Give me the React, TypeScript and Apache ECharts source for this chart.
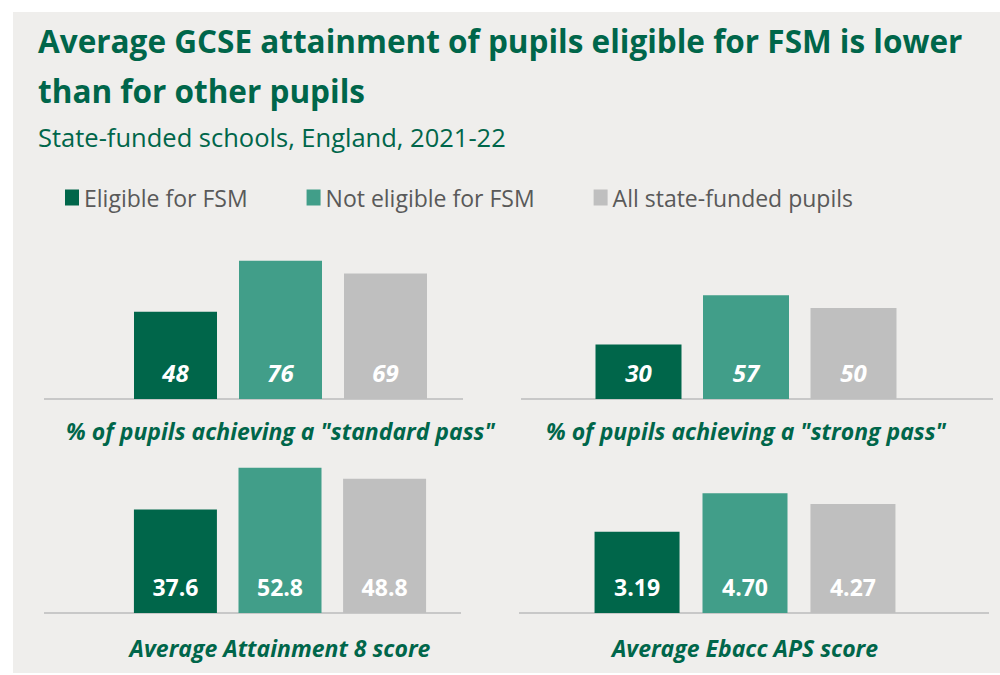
import React, { useEffect, useRef } from "react";
import * as echarts from "echarts";

const seriesNames = ["Eligible for FSM", "Not eligible for FSM", "All state-funded pupils"];
const seriesColors = ["#00664a", "#419e89", "#bfbfbf"];
const panelLabels = [
  '% of pupils achieving a "standard pass"',
  '% of pupils achieving a "strong pass"',
  "Average Attainment 8 score",
  "Average Ebacc APS score",
];
const eligibleValues = [48, 30, 37.6, 3.19];
const notEligibleValues = [76, 57, 52.8, 4.7];
const allPupilValues = [69, 50, 48.8, 4.27];
const valueDecimals = [0, 0, 1, 2];
const axisMax = [100, 100, 60, 6];

const titleText = "Average GCSE attainment of pupils eligible for FSM is lower\nthan for other pupils";
const subtitleText = "State-funded schools, England, 2021-22";

const GREEN = "#00664a";

const panelLayout = [
  { left: 44, width: 473, top: 217, height: 182, barWidth: 83, barGap: "26.5%", line: [44, 463, 399], labelMargin: 20 },
  { left: 521, width: 450, top: 217, height: 182, barWidth: 86, barGap: "25%", line: [521, 993, 399], labelMargin: 20 },
  { left: 44, width: 472, top: 448, height: 165, barWidth: 83, barGap: "26%", line: [44, 461, 613], labelMargin: 23 },
  { left: 519, width: 452, top: 460, height: 153, barWidth: 85, barGap: "27%", line: [519, 989, 613], labelMargin: 23 },
];

export default function App() {
  const ref = useRef<HTMLDivElement>(null);
  useEffect(() => {
    if (!ref.current) return;
    const chart = echarts.init(ref.current, null, { renderer: "svg" });
    const valueSets = [eligibleValues, notEligibleValues, allPupilValues];

    const grids = panelLayout.map((p) => ({ left: p.left, width: p.width, top: p.top, height: p.height, containLabel: false }));
    const xAxes = panelLayout.map((p, i) => ({
      type: "category",
      gridIndex: i,
      data: [panelLabels[i]],
      axisLine: { show: false },
      axisTick: { show: false },
      axisLabel: {
        interval: 0,
        margin: p.labelMargin,
        fontSize: 23,
        lineHeight: 24,
        fontWeight: "bold",
        fontStyle: "italic",
        color: GREEN,
        fontFamily: "Open Sans",
      },
    }));
    const yAxes = panelLayout.map((p, i) => ({
      type: "value",
      gridIndex: i,
      min: 0,
      max: axisMax[i],
      show: false,
      splitLine: { show: false },
    }));
    const series: any[] = [];
    panelLayout.forEach((p, i) => {
      valueSets.forEach((vals, j) => {
        series.push({
          type: "bar",
          name: seriesNames[j],
          xAxisIndex: i,
          yAxisIndex: i,
          data: [vals[i]],
          barWidth: p.barWidth,
          barGap: p.barGap,
          itemStyle: { color: seriesColors[j] },
          label: {
            show: true,
            position: "insideBottom",
            distance: 15,
            color: "#ffffff",
            fontSize: i < 2 ? 24 : 23,
            fontWeight: "bold",
            fontStyle: i < 2 ? "italic" : "normal",
            fontFamily: "Open Sans",
            formatter: (d: any) => Number(d.value).toFixed(valueDecimals[i]),
          },
        });
      });
    });

    const graphics: any[] = [
      {
        type: "rect",
        z: -10,
        silent: true,
        shape: { x: 13, y: 12, width: 987, height: 661 },
        style: { fill: "#efeeec" },
      },
      ...panelLayout.map((p) => ({
        type: "line",
        z: 1,
        silent: true,
        shape: { x1: p.line[0], y1: p.line[2], x2: p.line[1], y2: p.line[2] },
        style: { stroke: "#c8c8c8", lineWidth: 2 },
      })),
    ];

    chart.setOption({
      animation: false,
      backgroundColor: "#ffffff",
      title: {
        text: titleText,
        subtext: subtitleText,
        left: 38,
        top: 15,
        padding: 0,
        itemGap: 8,
        textStyle: { fontFamily: "Open Sans", fontWeight: "bold", fontSize: 31.5, lineHeight: 50, color: GREEN },
        subtextStyle: { fontFamily: "Open Sans", fontSize: 25.5, lineHeight: 28, color: GREEN },
      },
      legend: {
        data: seriesNames,
        left: 65,
        top: 186,
        padding: 0,
        icon: "rect",
        itemWidth: 14,
        itemHeight: 16,
        itemGap: 59,
        textStyle: { fontFamily: "Open Sans", fontSize: 23, color: "#595959" },
      },
      grid: grids,
      xAxis: xAxes,
      yAxis: yAxes,
      series,
      graphic: graphics,
    });
    return () => chart.dispose();
  }, []);
  return (
    <div style={{ position: "fixed", left: 0, top: 0, width: 1000, height: 675, background: "#fff" }}>
      <div ref={ref} style={{ width: 1000, height: 675 }} />
    </div>
  );
}
